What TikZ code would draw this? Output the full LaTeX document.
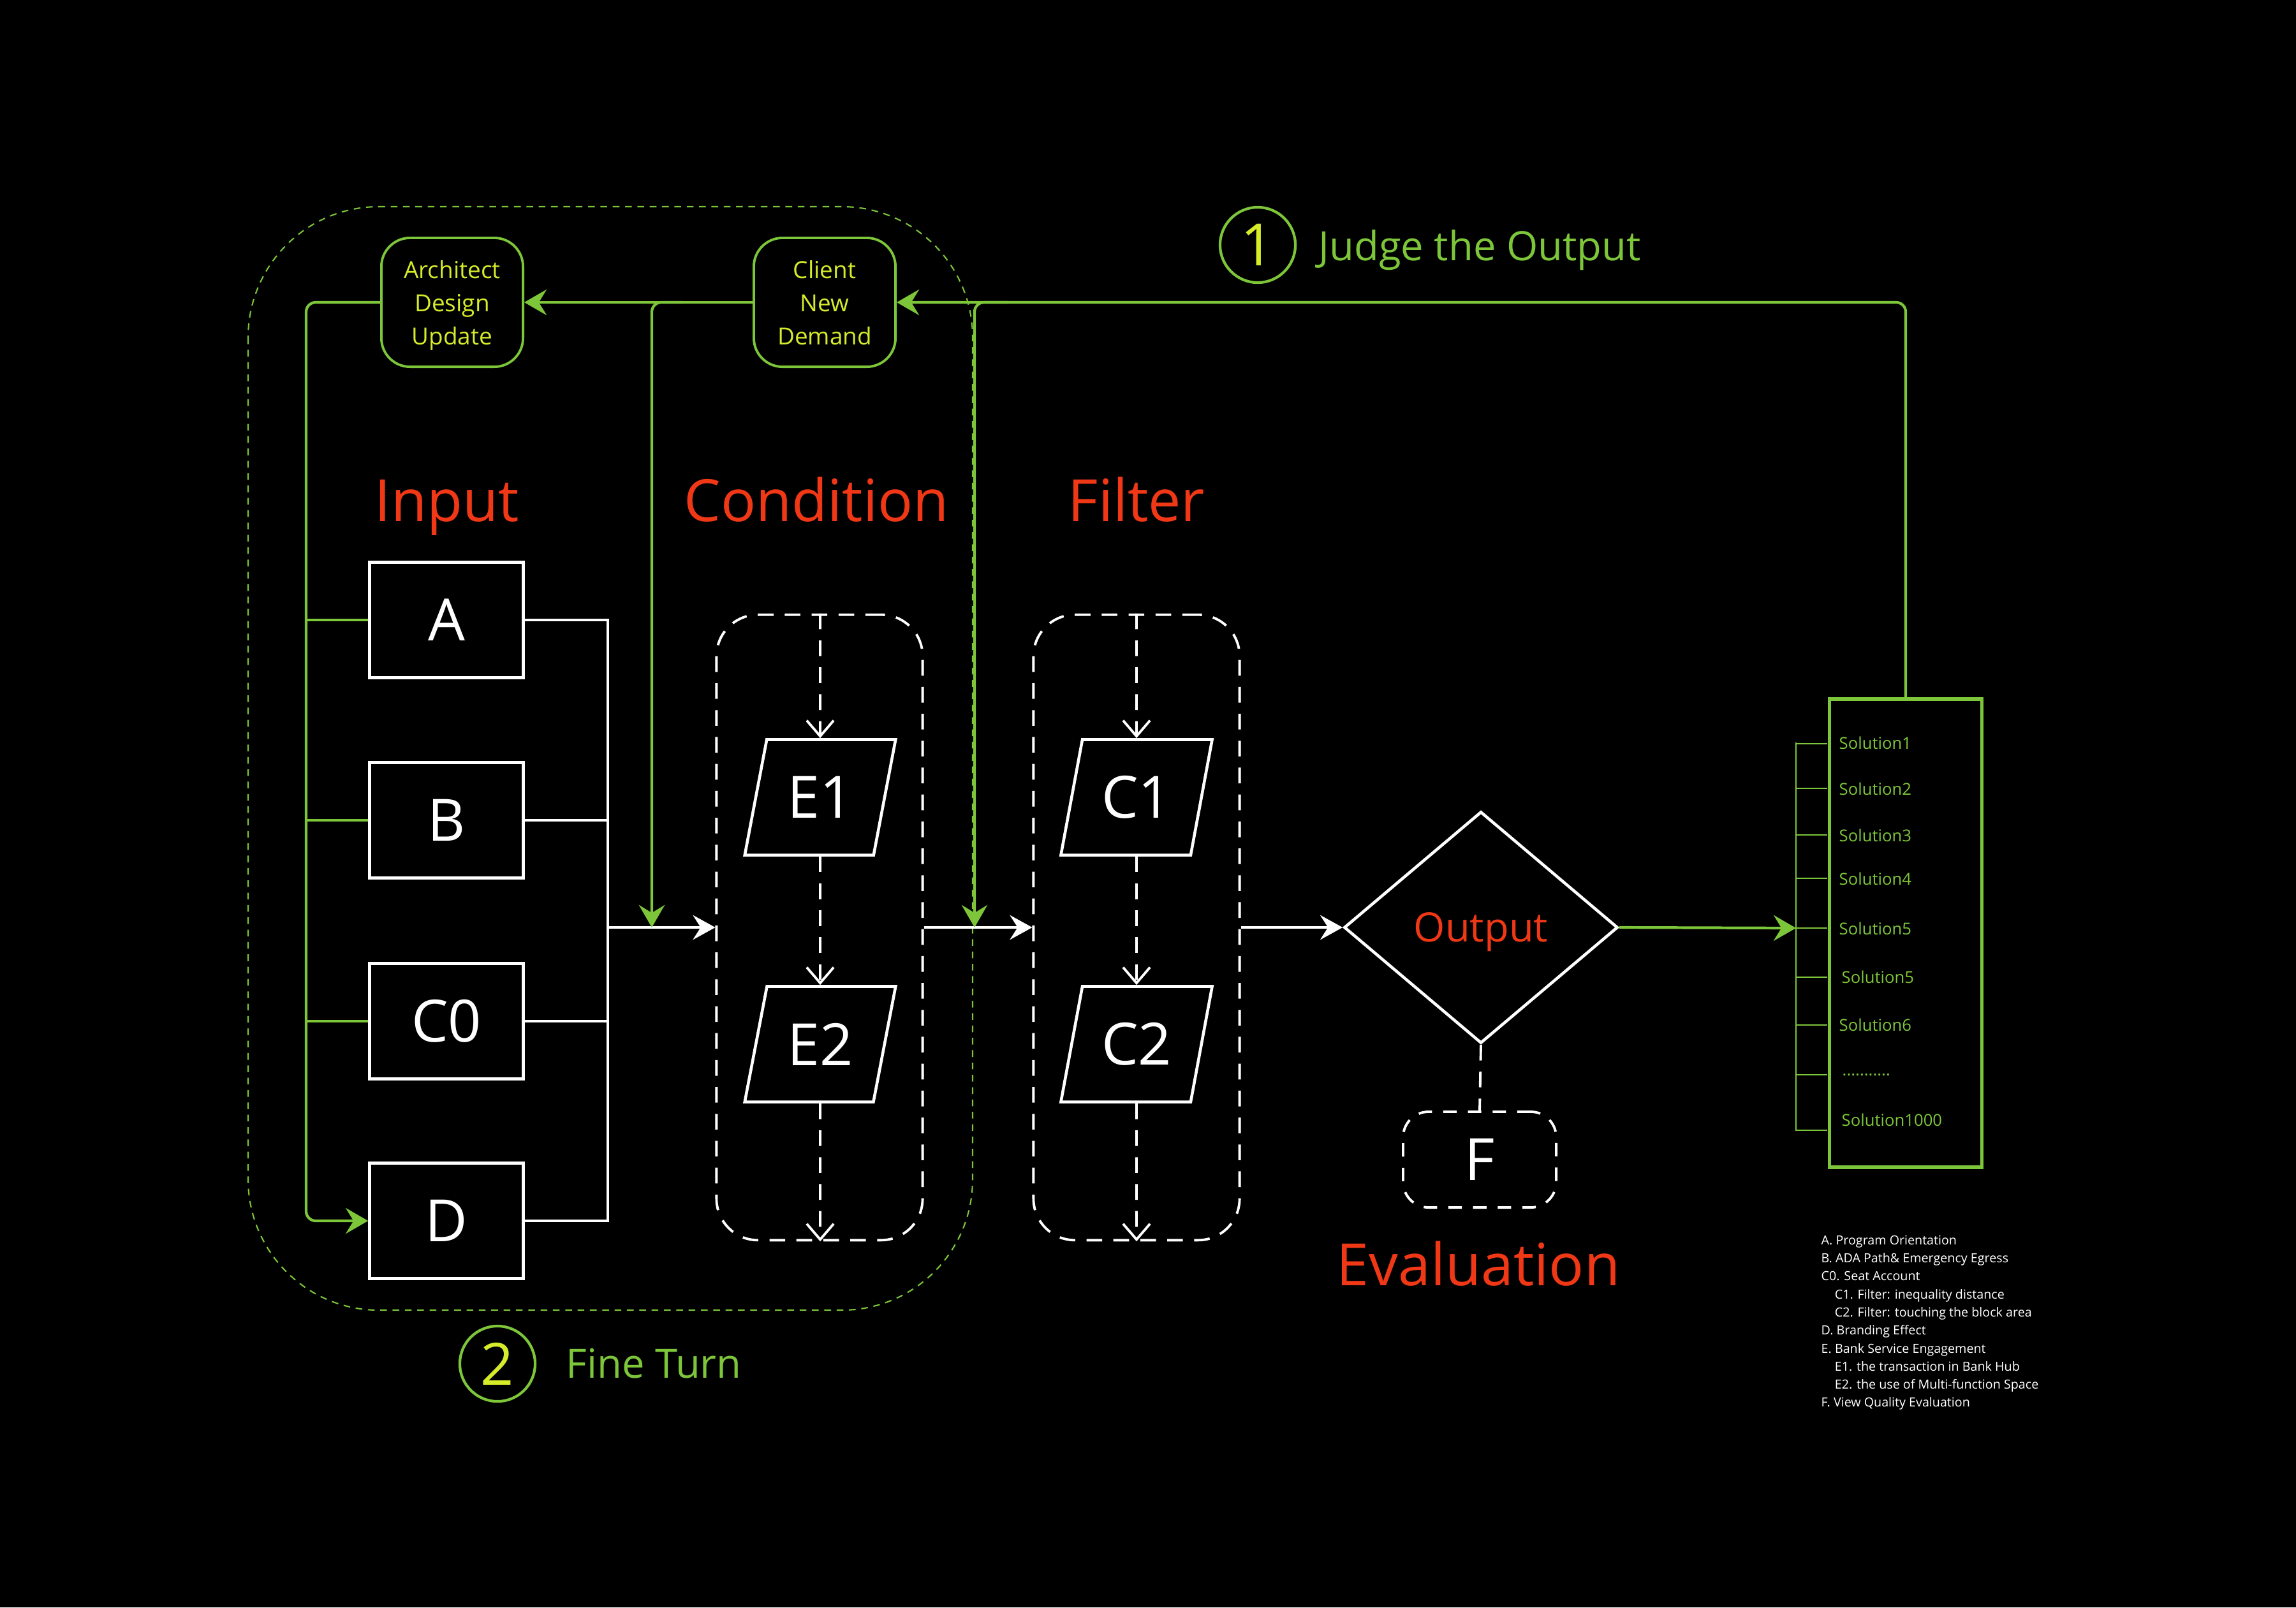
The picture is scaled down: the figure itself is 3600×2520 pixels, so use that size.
\documentclass[tikz,border=0pt]{standalone}
\usepackage{fontspec}
\setmainfont{Open Sans}
\usetikzlibrary{arrows.meta,shapes.geometric}
\definecolor{lgreen}{RGB}{125,198,58}
\definecolor{lyellow}{RGB}{214,236,42}
\definecolor{hred}{RGB}{240,56,22}
\newcommand{\soldots}{...........}

\begin{document}
\begin{tikzpicture}[x=0.01cm,y=-0.01cm,
        inbox/.style={draw=white,line width=1.3pt,minimum width=2.41cm,minimum height=1.81cm,text=white,font=\fontsize{26}{30}\selectfont},
        databox/.style={trapezium,trapezium left angle=72,trapezium right angle=108,trapezium stretches=true,draw=white,line width=1.3pt,minimum width=2.37cm,minimum height=1.81cm,inner sep=0pt,text=white,font=\fontsize{26}{30}\selectfont},
        stagebox/.style={draw=white,line width=1.1pt,dash pattern=on 7pt off 5pt,rounded corners=0.65cm,minimum width=3.23cm,minimum height=9.8cm},
        gbox/.style={draw=lgreen,line width=1.1pt,rounded corners=0.45cm,minimum width=2.22cm,minimum height=2.02cm,align=center,text depth=0pt,text=lyellow,font=\fontsize{10.5}{14.8}\selectfont},
        heading/.style={text=hred,inner sep=0pt,font=\fontsize{26}{30}\selectfont},
        numc/.style={circle,draw=lgreen,line width=1.2pt,minimum size=1.18cm,inner sep=0pt,text=lyellow,font=\fontsize{26}{30}\selectfont},
        gtext/.style={text=lgreen,inner sep=0pt,font=\fontsize{18}{22}\selectfont},
        sollab/.style={anchor=west,inner sep=0pt,text=lgreen,font=\fontsize{7.3}{9}\selectfont},
        gline/.style={draw=lgreen,line width=1.2pt},
        gthin/.style={draw=lgreen,line width=0.6pt},
        garrow/.style={gline,-{Stealth[length=10pt,width=11.5pt,inset=3.5pt]}},
        wline/.style={draw=white,line width=1pt},
        warrow/.style={wline,-{Stealth[length=10pt,width=11pt,inset=3.5pt]}},
        wdash/.style={draw=white,line width=1.1pt,dash pattern=on 7pt off 5pt},
        darrow/.style={wdash,-{Straight Barb[length=7pt,width=12pt]}}]
        \useasboundingbox (0,0) rectangle (3600,2520);
        \fill[black] (0,0) rectangle (3600,2520);

        \draw[lgreen,line width=0.6pt,dash pattern=on 3pt off 2.5pt,rounded corners=2.05cm] (389,324) rectangle (1525,2054);

        \node[gbox] (arch) at (709,474) {Architect\\Design\\Update};
        \node[gbox] (client) at (1293,474) {Client\\New\\Demand};

        \node[heading,anchor=base] (hin) at (701,817) {Input};
        \node[heading,anchor=base] (hcond) at (1280,817) {Condition};
        \node[heading,anchor=base] (hfilt) at (1782,817) {Filter};

        \node[inbox] (A) at (700,972) {A};
        \node[inbox] (B) at (700,1286) {B};
        \node[inbox] (C0) at (700,1601) {C0};
        \node[inbox] (D) at (700,1914) {D};

        \node[stagebox] (cond) at (1285,1454) {};
        \node[stagebox] (filt) at (1782,1454) {};
        \node[databox] (E1) at (1286,1250) {E1};
        \node[databox] (E2) at (1286,1637) {E2};
        \node[databox] (C1) at (1782,1250) {C1};
        \node[databox] (C2) at (1782,1637) {C2};

        \draw[darrow] (E1 |- cond.north) -- (E1.north);
        \draw[darrow] (E1.south) -- (E2.north);
        \draw[darrow] (E2.south) -- (E2 |- cond.south);
        \draw[darrow] (C1 |- filt.north) -- (C1.north);
        \draw[darrow] (C1.south) -- (C2.north);
        \draw[darrow] (C2.south) -- (C2 |- filt.south);

        \coordinate (bus) at (953,1454);
        \draw[wline] (A.east) -- (A.east -| bus) -- (D.east -| bus) -- (D.east);
        \draw[wline] (B.east) -- (B.east -| bus);
        \draw[wline] (C0.east) -- (C0.east -| bus);
        \draw[warrow] (bus) -- (cond.west);
        \draw[warrow] (cond.east) -- (filt.west);

        \node[diamond,draw=white,line width=1.3pt,minimum width=4.29cm,minimum height=3.63cm,inner sep=0pt,text height=12.9pt,text depth=0pt,text=hred,font=\fontsize{18}{22}\selectfont] (out) at (2322,1454) {Output};
        \draw[warrow] (filt.east) -- (out.west);
        \node[draw=white,line width=1.1pt,dash pattern=on 6pt off 5pt,rounded corners=0.4cm,minimum width=2.4cm,minimum height=1.5cm,text=white,font=\fontsize{26}{30}\selectfont] (F) at (2320,1818) {F};
        \draw[wdash] (out.south) -- (F.north);
        \node[heading,anchor=base] (heval) at (2318,2015) {Evaluation};

        \node[draw=lgreen,line width=1.6pt,minimum width=2.39cm,minimum height=7.34cm] (sol) at (2988,1463) {};
        \coordinate (combtop) at (2816,1164);
        \coordinate (combbot) at (2816,1773);
        \coordinate (comb) at (2816,1455);
        \draw[gthin] (combtop) -- (combbot);
        \foreach \y/\ly/\x/\t [count=\i] in {1166/1165/2883/Solution1,1236/1237/2883/Solution2,1309/1310/2883/Solution3,1377/1378/2883/Solution4,1455/1456/2883/Solution5,1532/1532/2887/Solution5,1607/1607/2883/Solution6,1685/1685/2888/\soldots,1772/1756/2887/Solution1000}
        {
            \draw[gthin] (2816,\y) -- (2865,\y);
            \node[sollab] (s\i) at (\x,\ly) {\t};
        }
        \draw[garrow] (out.east) -- (comb);

        \coordinate (jturn) at (1580,474);
        \coordinate (jdrop) at (1528,1454);
        \coordinate (aturn) at (1070,474);
        \coordinate (adrop) at (1022,1454);
        \coordinate (gbus) at (480,1914);
        \draw[garrow,rounded corners=0.15cm] (sol.north) |- (client.east);
        \draw[garrow,rounded corners=0.15cm] (jturn) -| (jdrop);
        \draw[garrow] (client.west) -- (arch.east);
        \draw[garrow,rounded corners=0.15cm] (aturn) -| (adrop);
        \draw[garrow,rounded corners=0.15cm] (arch.west) -| (gbus) -- (D.west);
        \draw[gline] (A.west -| gbus) -- (A.west);
        \draw[gline] (B.west -| gbus) -- (B.west);
        \draw[gline] (C0.west -| gbus) -- (C0.west);

        \node[numc] (n1) at (1972,384) {1};
        \node[gtext,anchor=base west] (judge) at (2067,408) {Judge the Output};
        \node[numc] (n2) at (780,2138) {2};
        \node[gtext,anchor=base west] (fine) at (887,2160) {Fine Turn};

        \node[anchor=north west,inner sep=0pt,align=left,text=white,font=\fontsize{5.6}{8.05}\selectfont] (key) at (2855,1936)
        {A. Program Orientation\\
        B. ADA Path\& Emergency Egress\\
        C0. Seat Account\\
        \hspace*{6pt}C1. Filter: inequality distance\\
        \hspace*{6pt}C2. Filter: touching the block area\\
        D. Branding Effect\\
        E. Bank Service Engagement\\
        \hspace*{6pt}E1. the transaction in Bank Hub\\
        \hspace*{6pt}E2. the use of Multi-function Space\\
        F. View Quality Evaluation};
\end{tikzpicture}
\end{document}
